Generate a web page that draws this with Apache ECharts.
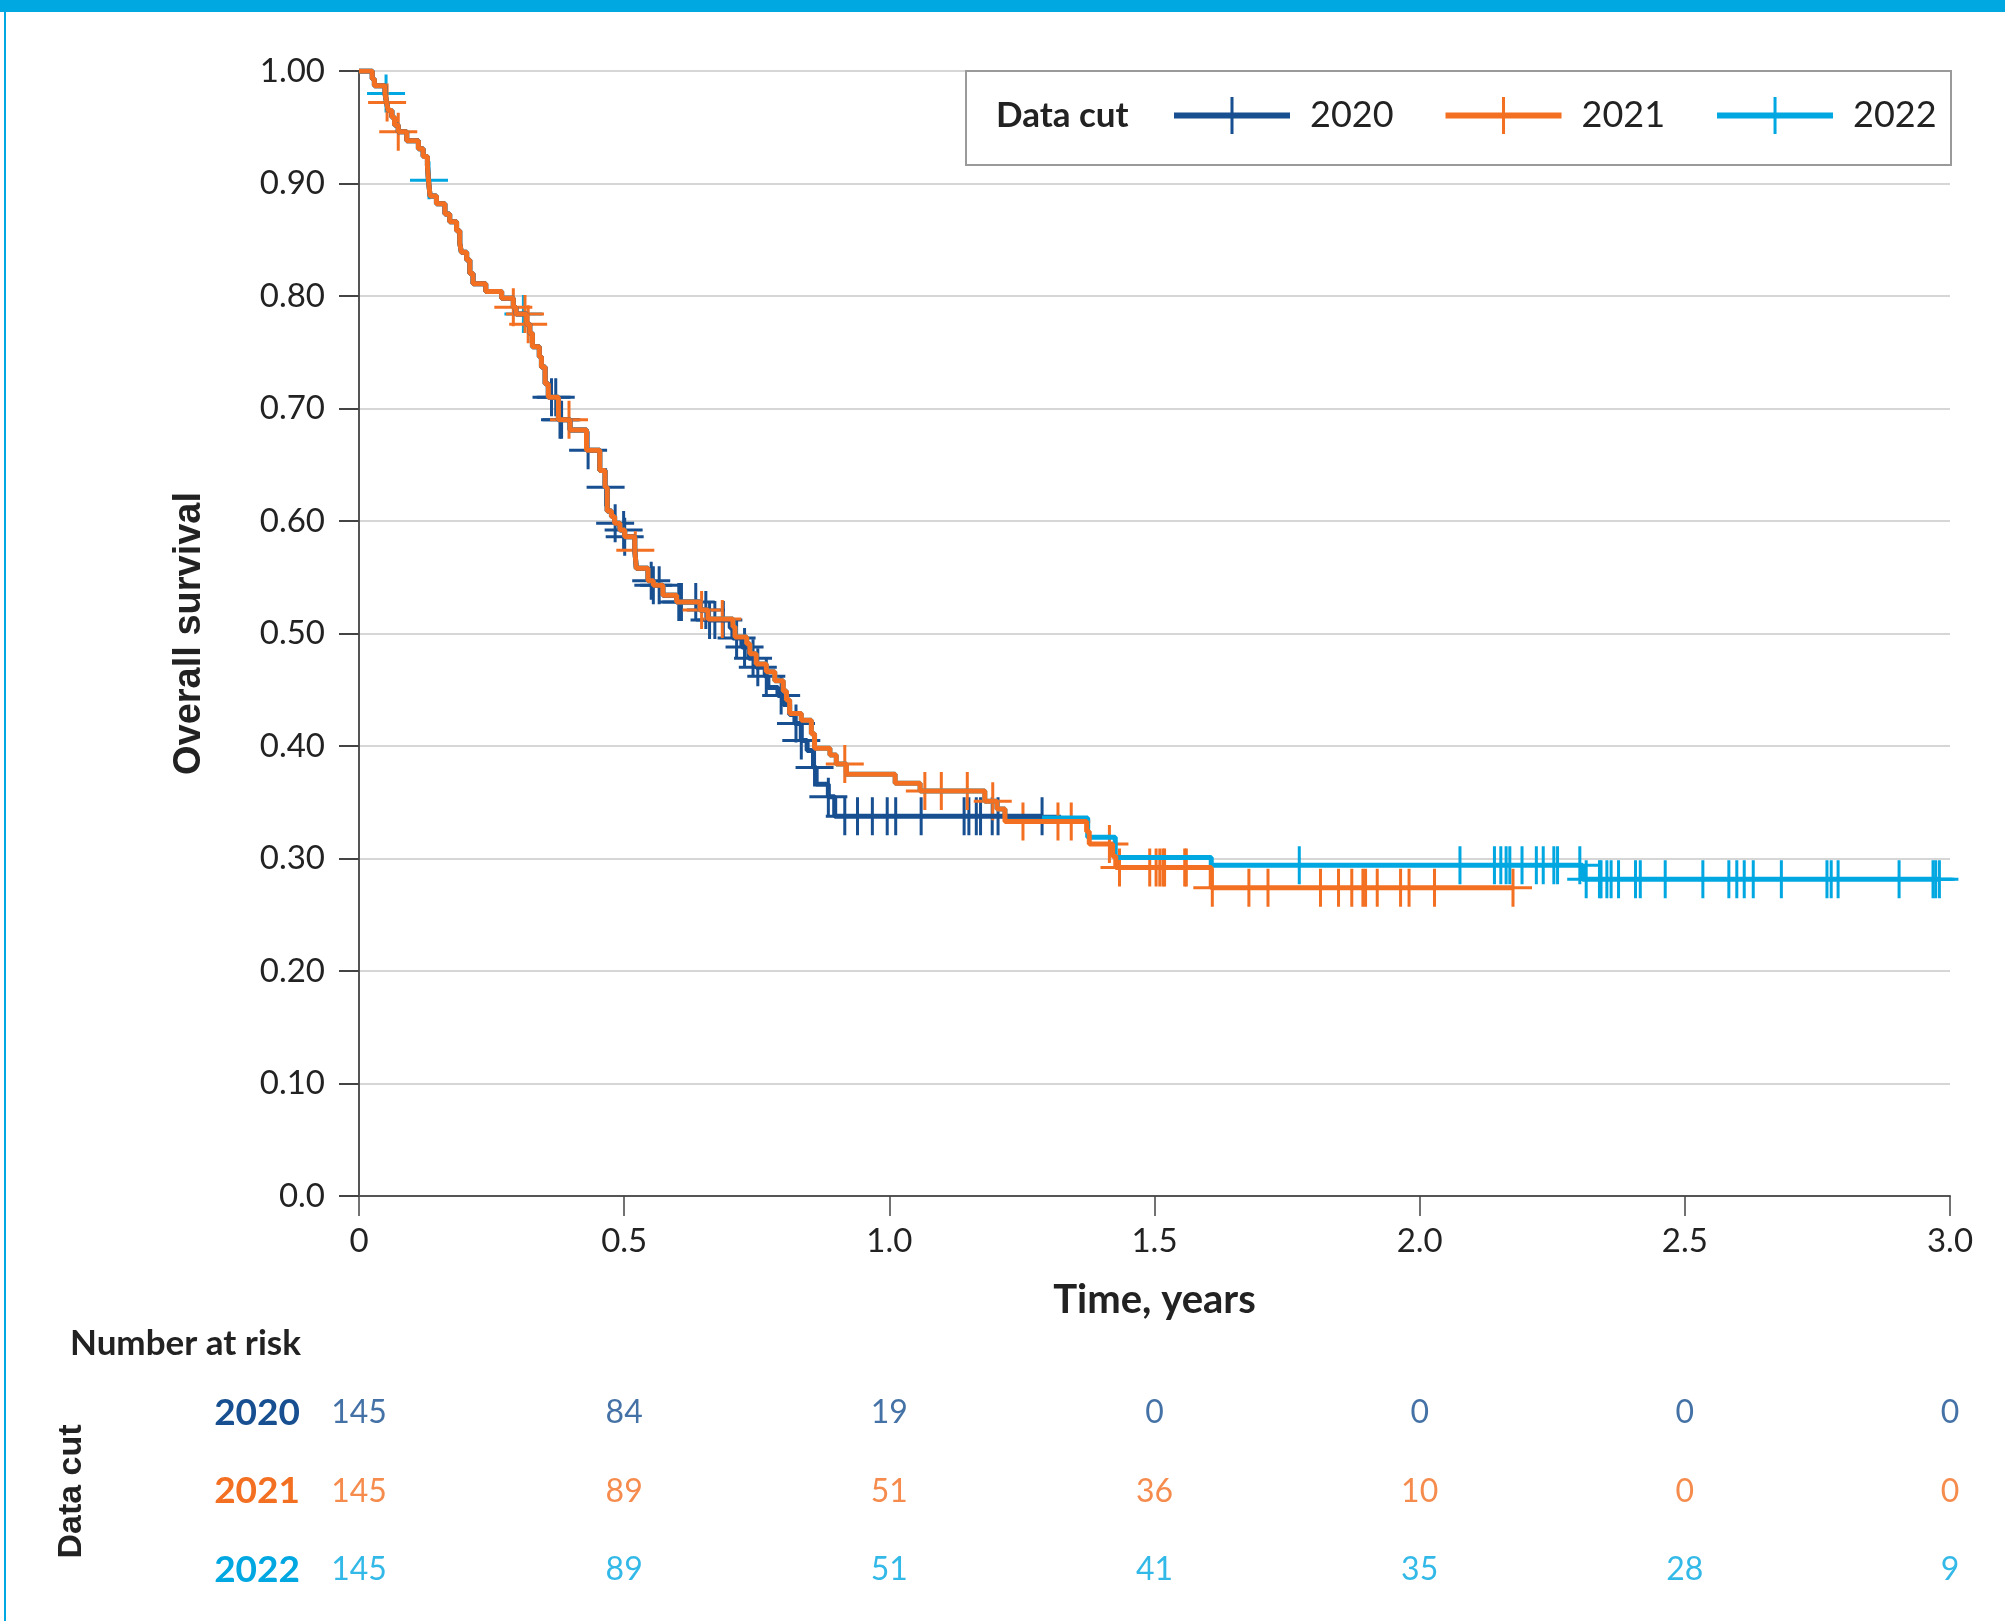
<!DOCTYPE html>
<html>
<head>
<meta charset="utf-8">
<script src="https://cdn.jsdelivr.net/npm/echarts@6/dist/echarts.min.js"></script>
<style>
  html, body { margin: 0; padding: 0; background: #fff; }
  #main { width: 2005px; height: 1621px; }
</style>
</head>
<body>
<div id="main"></div>
<script>
// axis labels
var xTickLabels = ['0', '0.5', '1.0', '1.5', '2.0', '2.5', '3.0'];
var yTickLabels = ['0.0', '0.10', '0.20', '0.30', '0.40', '0.50', '0.60', '0.70', '0.80', '0.90', '1.00'];
var cuts = ['2020', '2021', '2022'];

// number at risk
var riskTimes = [0, 0.5, 1.0, 1.5, 2.0, 2.5, 3.0];
var risk2020 = [145, 84, 19, 0, 0, 0, 0];
var risk2021 = [145, 89, 51, 36, 10, 0, 0];
var risk2022 = [145, 89, 51, 41, 35, 28, 9];

// KM steps [time, survival] - early part common to the 3 cuts
var stepsShared = [
    [0, 1.000], [0.025, 0.993], [0.029, 0.987], [0.049, 0.980], [0.052, 0.972],
    [0.055, 0.965], [0.062, 0.959], [0.067, 0.952], [0.074, 0.946], [0.090, 0.938],
    [0.112, 0.931], [0.121, 0.924], [0.129, 0.916], [0.131, 0.903], [0.134, 0.889],
    [0.146, 0.882], [0.162, 0.873], [0.171, 0.866], [0.184, 0.858], [0.190, 0.847],
    [0.193, 0.839], [0.203, 0.832], [0.209, 0.820], [0.215, 0.811], [0.239, 0.804],
    [0.269, 0.798], [0.291, 0.790], [0.296, 0.784], [0.316, 0.775], [0.322, 0.767],
    [0.327, 0.755], [0.340, 0.746], [0.344, 0.737], [0.351, 0.722], [0.357, 0.710],
    [0.376, 0.690], [0.398, 0.681], [0.429, 0.663], [0.454, 0.645], [0.464, 0.630],
    [0.468, 0.609], [0.476, 0.604], [0.482, 0.598], [0.492, 0.592], [0.501, 0.586],
    [0.520, 0.574], [0.523, 0.558], [0.545, 0.547], [0.555, 0.543], [0.573, 0.534],
    [0.599, 0.528], [0.643, 0.521]
];
// 2021 and 2022 cuts share these steps
var stepsMid = [
    [0.658, 0.513], [0.705, 0.506], [0.709, 0.497], [0.731, 0.491], [0.737, 0.482],
    [0.749, 0.473], [0.768, 0.466], [0.784, 0.458], [0.800, 0.449], [0.806, 0.441],
    [0.812, 0.429], [0.834, 0.423], [0.853, 0.411], [0.859, 0.398], [0.888, 0.392],
    [0.900, 0.384], [0.919, 0.375], [1.011, 0.367], [1.058, 0.360], [1.180, 0.351],
    [1.203, 0.344]
];
var tail2020 = [
    [0.658, 0.512], [0.700, 0.505], [0.705, 0.496], [0.722, 0.488], [0.735, 0.478],
    [0.749, 0.470], [0.766, 0.462], [0.771, 0.452], [0.790, 0.445], [0.800, 0.437],
    [0.812, 0.428], [0.822, 0.420], [0.834, 0.405], [0.845, 0.396], [0.857, 0.381],
    [0.862, 0.366], [0.885, 0.355], [0.897, 0.3375], [1.288, 0.3375]
];
var tail2021 = [
    [1.218, 0.333], [1.372, 0.324], [1.377, 0.313], [1.421, 0.302], [1.427, 0.292],
    [1.607, 0.274], [2.176, 0.274]
];
var tail2022 = [
    [1.218, 0.336], [1.374, 0.319], [1.426, 0.301], [1.607, 0.294], [2.307, 0.2815],
    [2.980, 0.2815]
];

// censored times
var cens2020 = [0.363, 0.371, 0.379, 0.382, 0.432, 0.465, 0.483, 0.499, 0.501, 0.551,
    0.555, 0.566, 0.603, 0.608, 0.635, 0.654, 0.661, 0.671, 0.687, 0.712, 0.727, 0.743,
    0.752, 0.768, 0.796, 0.824, 0.834, 0.859, 0.885, 0.916, 0.940, 0.968, 0.996, 1.012,
    1.060, 1.141, 1.150, 1.164, 1.172, 1.194, 1.205, 1.288];
var cens2021 = [0.053, 0.074, 0.291, 0.313, 0.319, 0.396, 0.521, 0.646, 0.685, 0.916,
    1.067, 1.098, 1.147, 1.195, 1.252, 1.318, 1.343, 1.415, 1.434, 1.491, 1.503, 1.510,
    1.516, 1.519, 1.557, 1.560, 1.609, 1.678, 1.714, 1.813, 1.847, 1.872, 1.893, 1.898,
    1.920, 1.964, 1.980, 2.028, 2.176];
var cens2022 = [0.051, 0.132, 0.310, 1.773, 2.076, 2.141, 2.153, 2.163, 2.170, 2.193,
    2.220, 2.233, 2.253, 2.260, 2.302, 2.314, 2.339, 2.342, 2.353, 2.361, 2.375, 2.407,
    2.416, 2.463, 2.534, 2.583, 2.598, 2.612, 2.629, 2.682, 2.768, 2.776, 2.789, 2.904,
    2.968, 2.973, 2.980];

var km2020 = stepsShared.concat(tail2020);
var km2021 = stepsShared.concat(stepsMid, tail2021);
var km2022 = stepsShared.concat(stepsMid, tail2022);

var C2020 = '#174f90', C2021 = '#f36f21', C2022 = '#00a7e1';
var PLUS = 'path://M0,17.5 L38,17.5 L38,20.5 L0,20.5 Z M17.5,0 L20.5,0 L20.5,38 L17.5,38 Z';
var LEGEND_ICON = 'path://M0,15.5 L116,15.5 L116,21.5 L0,21.5 Z M56.5,0 L59.5,0 L59.5,37 L56.5,37 Z';

function survAt(steps, t) {
    var s = steps[0][1];
    for (var i = 0; i < steps.length; i++) {
        if (steps[i][0] <= t) s = steps[i][1];
        else break;
    }
    return s;
}
function marks(steps, times) {
    return times.map(function (t) { return [t, survAt(steps, t)]; });
}
function kmLine(name, data, color) {
    return {
        name: name, type: 'line', step: 'end', data: data,
        symbol: 'none', lineStyle: { color: color, width: 5 },
        itemStyle: { color: color }
    };
}
function kmMarks(name, data, color) {
    return {
        name: name, type: 'scatter', data: data,
        symbol: PLUS, symbolSize: 38,
        itemStyle: { color: color, opacity: 1 }
    };
}
function riskRow(name, values, color) {
    return {
        name: 'risk' + name, type: 'scatter', xAxisIndex: 1, yAxisIndex: 1,
        symbolSize: 0.1, itemStyle: { color: 'rgba(0,0,0,0)' },
        data: values.map(function (v, i) { return [riskTimes[i], name, v]; }),
        label: {
            show: true, position: 'inside', color: color,
            fontFamily: 'Lato', fontSize: 32,
            formatter: function (p) { return p.value[2]; }
        }
    };
}

var chart = echarts.init(document.getElementById('main'));
chart.setOption({
    animation: false,
    backgroundColor: '#fff',
    title: {
        text: 'Number at risk', left: 70, top: 1326, padding: 0,
        textStyle: { fontFamily: 'Lato', fontWeight: 'bold', fontSize: 35, color: '#222' }
    },
    legend: {
        left: 1174, top: 97, padding: 0, itemGap: 52,
        itemWidth: 116, itemHeight: 37, selectedMode: false,
        itemStyle: { borderWidth: 0 },
        textStyle: { fontFamily: 'Lato', fontSize: 36, color: '#222', padding: [0, 0, 0, 15] },
        data: cuts.map(function (c) { return { name: c, icon: LEGEND_ICON }; })
    },
    graphic: [
        { type: 'rect', shape: { x: 0, y: 0, width: 2005, height: 12 }, style: { fill: '#00a8e1' } },
        { type: 'rect', shape: { x: 4, y: 0, width: 2, height: 1621 }, style: { fill: '#00a8e1' } },
        { type: 'rect', shape: { x: 966, y: 71, width: 985, height: 94 }, style: { fill: 'none', stroke: '#9a9a9a', lineWidth: 2 }, z: 5 },
        { type: 'text', x: 996, y: 116, style: { text: 'Data cut', font: 'bold 35px Lato', fill: '#222', align: 'left', verticalAlign: 'middle' }, z: 5 }
    ],
    grid: [
        { left: 359, right: 55, top: 71, bottom: 425 },
        { left: 359, right: 55, top: 1374, bottom: 12 }
    ],
    xAxis: [
        {
            type: 'value', min: 0, max: 3, interval: 0.5,
            name: 'Time, years', nameLocation: 'middle', nameGap: 84,
            nameTextStyle: { fontFamily: 'Lato', fontWeight: 'bold', fontSize: 40, color: '#222' },
            axisLine: { lineStyle: { color: '#555', width: 2 } },
            axisTick: { length: 20, lineStyle: { color: '#444', width: 1.5 } },
            axisLabel: {
                margin: 29, fontFamily: 'Lato', fontSize: 33, color: '#222',
                formatter: function (v) { return xTickLabels[Math.round(v * 2)]; }
            },
            splitLine: { show: false }
        },
        { type: 'value', gridIndex: 1, min: 0, max: 3, show: false }
    ],
    yAxis: [
        {
            type: 'value', min: 0, max: 1, interval: 0.1,
            name: 'Overall survival', nameLocation: 'middle', nameGap: 150,
            nameTextStyle: { fontFamily: 'Liberation Sans', fontWeight: 'bold', fontSize: 38, color: '#222' },
            axisLine: { show: true, lineStyle: { color: '#555', width: 2 } },
            axisTick: { show: true, length: 20, lineStyle: { color: '#444', width: 2 } },
            axisLabel: {
                margin: 34, fontFamily: 'Lato', fontSize: 33, color: '#222',
                formatter: function (v) { return yTickLabels[Math.round(v * 10)]; }
            },
            splitLine: { lineStyle: { color: '#c8c8c8', width: 1.5 } }
        },
        {
            type: 'category', gridIndex: 1, data: cuts, inverse: true,
            name: 'Data cut', nameLocation: 'middle', nameGap: 270, nameRotate: 90,
            nameTextStyle: { fontFamily: 'Liberation Sans', fontWeight: 'bold', fontSize: 34, color: '#222' },
            axisLine: { show: false }, axisTick: { show: false }, splitLine: { show: false },
            axisLabel: {
                margin: 59, fontFamily: 'Lato', fontWeight: 'bold', fontSize: 37,
                formatter: function (v) { return '{y' + v + '|' + v + '}'; },
                rich: {
                    y2020: { color: C2020, fontFamily: 'Lato', fontWeight: 'bold', fontSize: 37 },
                    y2021: { color: C2021, fontFamily: 'Lato', fontWeight: 'bold', fontSize: 37 },
                    y2022: { color: C2022, fontFamily: 'Lato', fontWeight: 'bold', fontSize: 37 }
                }
            }
        }
    ],
    series: [
        kmLine('2022', km2022, C2022),
        kmLine('2020', km2020, C2020),
        kmLine('2021', km2021, C2021),
        kmMarks('2022', marks(km2022, cens2022), C2022),
        kmMarks('2020', marks(km2020, cens2020), C2020),
        kmMarks('2021', marks(km2021, cens2021), C2021),
        riskRow('2020', risk2020, C2020),
        riskRow('2021', risk2021, C2021),
        riskRow('2022', risk2022, C2022)
    ]
});
</script>
</body>
</html>
